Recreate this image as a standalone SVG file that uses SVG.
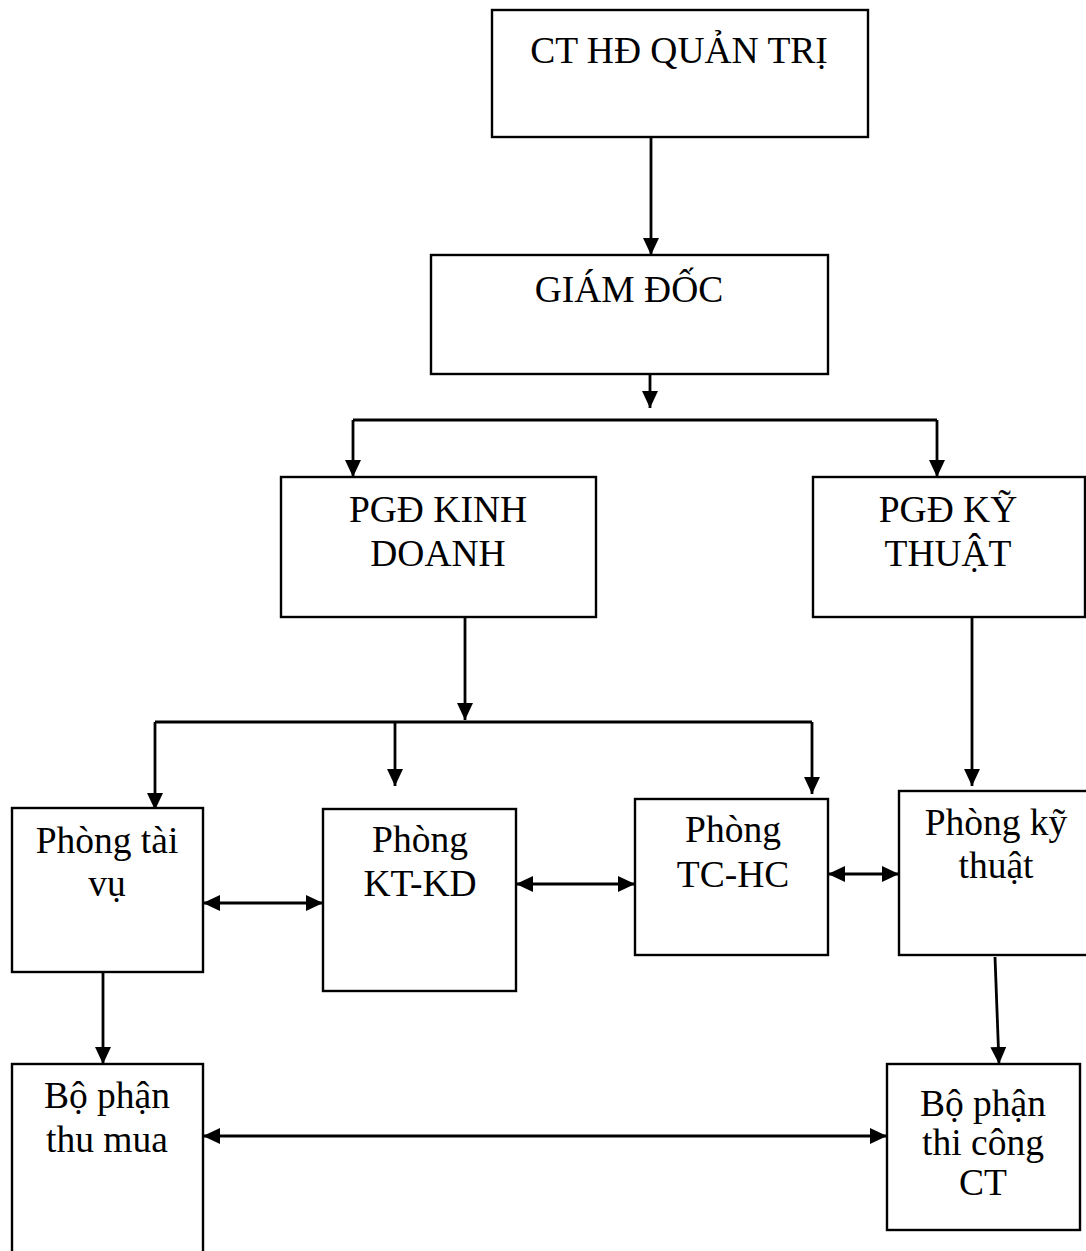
<svg xmlns="http://www.w3.org/2000/svg" width="1086" height="1251" viewBox="0 0 1086 1251">
<style>
.box{fill:#fff;stroke:#000;stroke-width:2.4}
.lbl{font-family:"Liberation Serif","Times New Roman",serif;font-size:37.5px;fill:#000;text-anchor:middle}
.c{fill:none;stroke:#000;stroke-width:2.8}
.a{marker-end:url(#ah)}
.b{marker-end:url(#ah);marker-start:url(#ah)}
</style>
<defs>
<marker id="ah" markerUnits="userSpaceOnUse" markerWidth="17" markerHeight="16" refX="17" refY="8" orient="auto-start-reverse" viewBox="0 0 17 16">
<path d="M0,0 L17,8 L0,16 z" fill="#000"/>
</marker>
</defs>
<rect x="0" y="0" width="1086" height="1251" fill="#fff"/>
<g id="connectors">
<path class="c a" d="M651,137 V255"/>
<path class="c a" d="M650,374 V408"/>
<path class="c" d="M353,420 H937"/>
<path class="c a" d="M353,420 V477"/>
<path class="c a" d="M937,420 V477"/>
<path class="c a" d="M465,617 V720"/>
<path class="c" d="M155,722 H812"/>
<path class="c a" d="M155,722 V810"/>
<path class="c a" d="M395,722 V786"/>
<path class="c a" d="M812,722 V794"/>
<path class="c a" d="M972,617 V786"/>
<path class="c b" d="M203,903 H323"/>
<path class="c b" d="M516,884 H635"/>
<path class="c b" d="M828,874 H899"/>
<path class="c a" d="M103,970 V1064"/>
<path class="c a" d="M995,957 L999,1064"/>
<path class="c b" d="M203,1136 H887"/>
</g>
<g id="ct-hd-quan-tri">
<rect class="box" x="492" y="10" width="376" height="127"/>
<text class="lbl" x="679" y="63">CT HĐ QUẢN TRỊ</text>
</g>
<g id="giam-doc">
<rect class="box" x="431" y="255" width="397" height="119"/>
<text class="lbl" x="629" y="302">GIÁM ĐỐC</text>
</g>
<g id="pgd-kinh-doanh">
<rect class="box" x="281" y="477" width="315" height="140"/>
<text class="lbl" x="438" y="522">PGĐ KINH</text>
<text class="lbl" x="438" y="566">DOANH</text>
</g>
<g id="pgd-ky-thuat">
<rect class="box" x="813" y="477" width="272" height="140"/>
<text class="lbl" x="948" y="522">PGĐ KỸ</text>
<text class="lbl" x="948" y="566">THUẬT</text>
</g>
<g id="phong-tai-vu">
<rect class="box" x="12" y="808" width="191" height="164"/>
<text class="lbl" x="107" y="853">Phòng tài</text>
<text class="lbl" x="107" y="896">vụ</text>
</g>
<g id="phong-kt-kd">
<rect class="box" x="323" y="809" width="193" height="182"/>
<text class="lbl" x="420" y="852">Phòng</text>
<text class="lbl" x="420" y="896">KT-KD</text>
</g>
<g id="phong-tc-hc">
<rect class="box" x="635" y="799" width="193" height="156"/>
<text class="lbl" x="733" y="842">Phòng</text>
<text class="lbl" x="733" y="887">TC-HC</text>
</g>
<g id="phong-ky-thuat">
<rect class="box" x="899" y="791" width="194" height="164"/>
<text class="lbl" x="996" y="835">Phòng kỹ</text>
<text class="lbl" x="996" y="878">thuật</text>
</g>
<g id="bo-phan-thu-mua">
<rect class="box" x="12" y="1064" width="191" height="200"/>
<text class="lbl" x="107" y="1108">Bộ phận</text>
<text class="lbl" x="107" y="1152">thu mua</text>
</g>
<g id="bo-phan-thi-cong-ct">
<rect class="box" x="887" y="1064" width="193" height="166"/>
<text class="lbl" x="983" y="1116">Bộ phận</text>
<text class="lbl" x="983" y="1155">thi công</text>
<text class="lbl" x="983" y="1195">CT</text>
</g>
</svg>
